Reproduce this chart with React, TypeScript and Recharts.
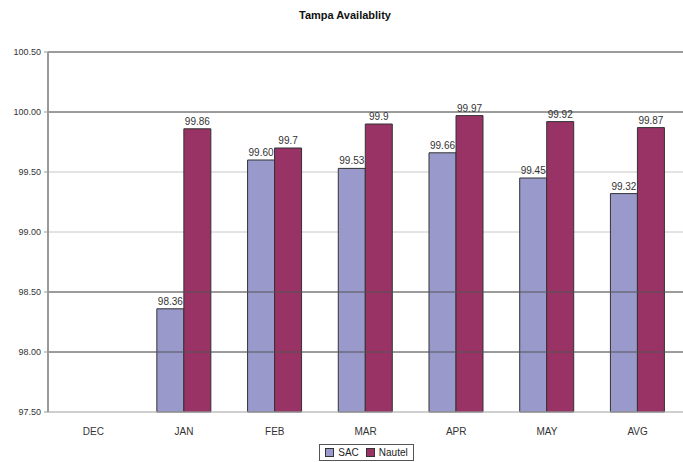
import React from "react";
import {
  BarChart,
  Bar,
  XAxis,
  YAxis,
  CartesianGrid,
  ReferenceLine,
  Legend,
  LabelList,
} from "recharts";

const months = ["DEC", "JAN", "FEB", "MAR", "APR", "MAY", "AVG"];
const sacValues = [null, 98.36, 99.6, 99.53, 99.66, 99.45, 99.32];
const nautelValues = [null, 99.86, 99.7, 99.9, 99.97, 99.92, 99.87];
const yTicks = [97.5, 98, 98.5, 99, 99.5, 100, 100.5];
// the picture draws these gridlines darker than the others
const darkGridValues = [98, 98.5, 100, 100.5];

const data = months.map((m, i) => ({
  month: m,
  sac: sacValues[i],
  nautel: nautelValues[i],
}));

const FONT = "'Liberation Sans', Arial, sans-serif";
const SAC_COLOR = "#9999cc";
const NAUTEL_COLOR = "#993366";

function ChartLegend() {
  return (
    <div style={{ display: "flex", justifyContent: "center" }}>
      <div
        style={{
          display: "flex",
          alignItems: "center",
          gap: 4,
          border: "1px solid #555",
          padding: "2px 5px",
          fontSize: 10,
          fontFamily: FONT,
          color: "#222",
          marginLeft: 50,
        }}
      >
        <span style={{ width: 7, height: 7, background: SAC_COLOR, border: "1px solid #333" }} />
        <span>SAC</span>
        <span style={{ width: 7, height: 7, background: NAUTEL_COLOR, border: "1px solid #333", marginLeft: 3 }} />
        <span>Nautel</span>
      </div>
    </div>
  );
}

export default function App() {
  return (
    <div style={{ position: "absolute", left: 0, top: 0, width: 683, height: 462, background: "#fff" }}>
      <div
        style={{
          position: "absolute",
          top: 9,
          left: 0,
          width: 690,
          textAlign: "center",
          fontFamily: FONT,
          fontWeight: "bold",
          fontSize: 11,
          color: "#111",
        }}
      >
        Tampa Availablity
      </div>
      <BarChart
        width={683}
        height={462}
        data={data}
        margin={{ top: 52, right: 0, left: 0, bottom: 0 }}
        barCategoryGap="20%"
        barGap={0}
      >
        <CartesianGrid vertical={false} stroke="#c8c8c8" />
        {darkGridValues.map((v) => (
          <ReferenceLine key={v} y={v} stroke="#555" strokeWidth={1.2} />
        ))}
        <XAxis
          dataKey="month"
          height={32}
          tickLine={false}
          axisLine={{ stroke: "#bbb" }}
          tick={{ fontSize: 10, fill: "#333", fontFamily: FONT }}
          tickMargin={10}
        />
        <YAxis
          width={48}
          domain={[97.5, 100.5]}
          ticks={yTicks}
          tickFormatter={(v: number) => v.toFixed(2)}
          axisLine={{ stroke: "#999", strokeWidth: 2 }}
          tickLine={{ stroke: "#999" }}
          tickSize={4}
          tickMargin={3}
          tick={{ fontSize: 9, fill: "#333", fontFamily: FONT }}
        />
        <Legend verticalAlign="bottom" height={18} content={() => <ChartLegend />} />
        <Bar dataKey="sac" name="SAC" fill={SAC_COLOR} stroke="#333" strokeWidth={1} isAnimationActive={false}>
          <LabelList
            dataKey="sac"
            position="top"
            offset={4}
            formatter={(v: any) => (v == null ? "" : Number(v).toFixed(2))}
            style={{ fontSize: 10, fill: "#333", fontFamily: FONT }}
          />
        </Bar>
        <Bar dataKey="nautel" name="Nautel" fill={NAUTEL_COLOR} stroke="#333" strokeWidth={1} isAnimationActive={false}>
          <LabelList
            dataKey="nautel"
            position="top"
            offset={4}
            formatter={(v: any) => (v == null ? "" : String(v))}
            style={{ fontSize: 10, fill: "#333", fontFamily: FONT }}
          />
        </Bar>
      </BarChart>
    </div>
  );
}
